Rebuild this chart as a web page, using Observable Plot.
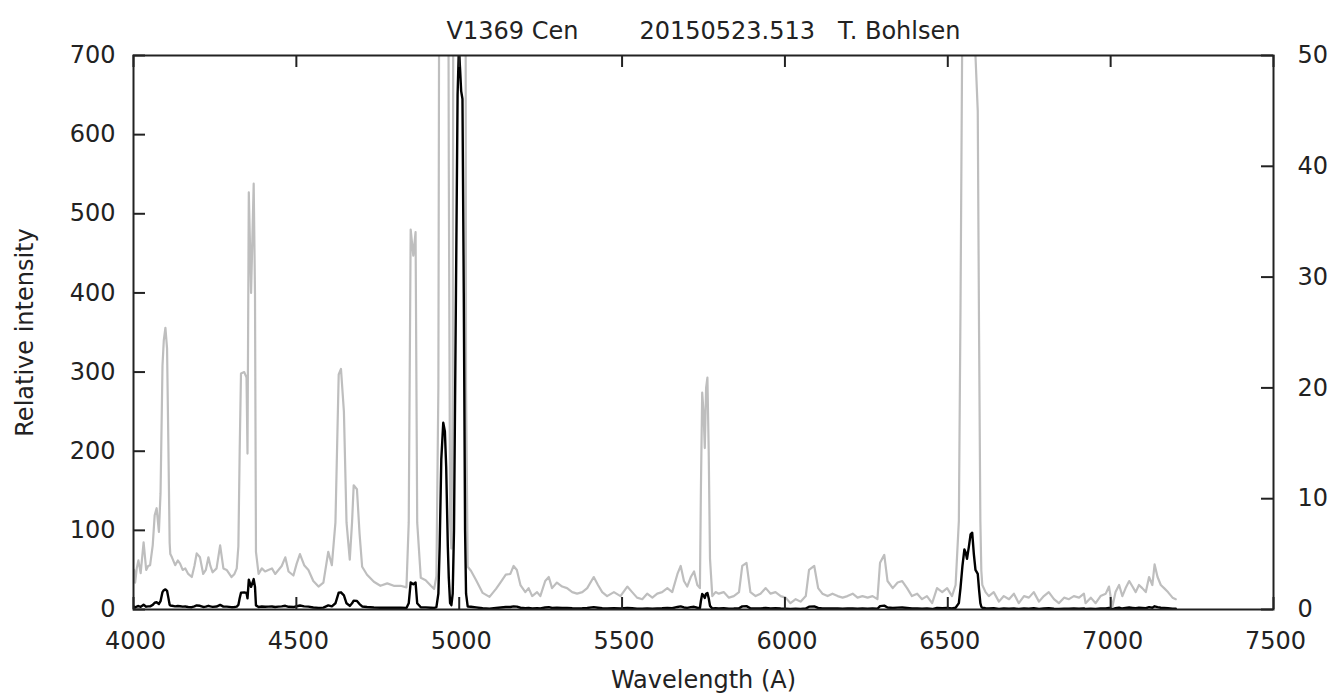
<!DOCTYPE html>
<html><head><meta charset="utf-8">
<script src="https://cdn.jsdelivr.net/npm/d3@7"></script>
<script src="https://cdn.jsdelivr.net/npm/@observablehq/plot@0.6"></script>
<style>body{margin:0;background:#fff;}</style>
</head><body><div id="chart"></div>
<script>
const title = "V1369 Cen\u00A0\u00A0\u00A0\u00A0\u00A0\u00A0\u00A0\u00A020150523.513\u00A0\u00A0\u00A0T. Bohlsen";
const xLabel = "Wavelength (A)";
const yLabel = "Relative intensity";
const xTicks = [4000, 4500, 5000, 5500, 6000, 6500, 7000, 7500];
const leftTicks = [0, 100, 200, 300, 400, 500, 600, 700];
const rightTicks = [0, 10, 20, 30, 40, 50];

const wavelength = [
4002,4005,4010,4015,4022,4031,4039,4045,4051,4059,4065,4071,4078,4083,4089,4093,4098,4103,4107,4111,
4113,4118,4128,4136,4143,4151,4159,4168,4179,4187,4194,4204,4214,4222,4230,4236,4243,4255,4266,4276,
4286,4301,4310,4317,4322,4326,4330,4340,4347,4350,4354,4361,4369,4373,4376,4384,4394,4404,4414,4425,
4435,4445,4455,4466,4476,4491,4501,4511,4524,4537,4552,4568,4583,4598,4609,4620,4630,4637,4646,4654,
4664,4671,4676,4686,4694,4702,4717,4738,4758,4779,4799,4820,4838,4845,4851,4859,4866,4871,4882,4897,
4913,4923,4930,4936,4940,4945,4951,4956,4960,4965,4968,4972,4976,4980,4984,4990,4995,4999,5003,5006,
5010,5014,5018,5021,5026,5036,5052,5072,5093,5113,5128,5143,5157,5167,5177,5188,5203,5213,5224,5239,
5249,5264,5275,5285,5300,5316,5331,5347,5362,5378,5393,5413,5426,5439,5454,5475,5495,5516,5531,5546,
5562,5577,5593,5608,5623,5639,5654,5670,5680,5690,5700,5711,5721,5731,5739,5742,5746,5750,5754,5758,
5762,5766,5770,5777,5787,5797,5812,5828,5843,5859,5869,5882,5894,5910,5925,5941,5956,5971,5987,6002,
6017,6033,6048,6064,6074,6090,6102,6115,6131,6146,6162,6177,6192,6208,6223,6238,6254,6269,6284,6292,
6305,6315,6331,6346,6360,6375,6390,6406,6421,6436,6452,6467,6483,6498,6513,6524,6534,6539,6545,6551,
6555,6559,6565,6570,6575,6580,6585,6592,6596,6600,6603,6606,6616,6626,6641,6657,6672,6688,6703,6718,
6734,6749,6764,6780,6795,6810,6826,6841,6857,6872,6887,6903,6918,6923,6939,6954,6969,6985,6995,7005,
7015,7026,7036,7046,7057,7067,7077,7087,7097,7108,7118,7128,7135,7144,7154,7164,7176,7190,7200
];
const flux = [
3.57,2.43,3.71,4.43,3.29,6.07,3.57,3.93,4.0,5.79,8.5,9.14,7.0,10.5,22.0,24.29,25.43,23.57,15.0,6.0,
5.0,4.71,4.0,4.43,4.14,3.57,3.71,3.21,2.93,3.93,5.07,4.71,3.21,3.57,4.71,3.93,3.36,3.71,5.79,3.71,
3.57,2.93,3.21,3.71,5.71,14.29,21.29,21.43,20.93,14.07,37.64,28.57,38.43,28.57,5.21,3.21,3.71,3.43,3.57,3.71,
3.21,3.57,3.93,4.71,3.43,3.07,4.14,5.0,4.0,3.57,2.57,2.07,2.43,5.21,4.0,7.86,21.21,21.71,17.86,7.86,
4.5,7.86,11.21,10.86,6.86,3.86,3.14,2.5,2.14,2.36,2.14,2.14,2.0,7.86,34.29,31.93,34.07,7.86,2.86,2.64,
2.14,1.86,3.0,20,80,190,236,225,180,80,40,8,5.5,20,100,400,650,710,680,655,
645,400,100,20,3.86,3.5,2.64,1.5,1.14,1.86,2.5,3.14,3.21,3.93,3.57,2.21,1.57,1.93,1.21,1.57,
1.21,2.57,2.93,1.93,2.43,2.07,1.93,1.57,1.43,1.57,1.93,2.93,2.21,1.57,1.21,1.57,1.21,2.07,1.57,1.07,
0.93,1.43,1.07,1.43,1.57,1.93,1.57,3.21,3.93,2.57,2.07,2.93,3.43,2.21,1.93,10.71,19.57,17.86,14.57,20.0,
20.93,14.29,4.57,1.21,1.57,1.43,1.57,1.07,1.21,1.57,3.93,4.21,1.57,1.21,1.43,1.93,1.43,1.57,1.21,1.07,
0.57,0.93,0.71,1.21,3.57,3.93,1.93,1.43,1.21,1.43,1.21,1.07,1.21,1.43,1.07,1.21,1.07,1.21,0.93,4.21,
4.93,2.57,1.93,2.43,2.57,1.93,1.21,1.43,0.93,1.21,0.57,1.93,1.57,1.93,1.21,2.21,8,27,55,76,
72,64,80,95,97,70,50,45,25,8,3.5,2.21,1.57,1.21,1.57,0.71,1.21,0.93,1.43,0.57,
1.21,1.07,1.57,0.71,1.21,1.57,0.93,0.57,1.07,0.93,1.21,1.07,1.43,0.57,1.07,0.57,1.21,1.43,2.07,0.21,
1.57,2.21,1.21,1.93,2.57,2.07,1.57,2.21,1.93,1.57,2.93,2.21,4.07,2.93,2.21,1.93,1.57,1.07,0.93
];

const spectrum = wavelength.map((w, i) => ({w, f: flux[i]}));
const leftMax = leftTicks[leftTicks.length - 1];
const rightMax = rightTicks[rightTicks.length - 1];
const ratio = leftMax / rightMax;

const W = 1332, H = 695;
const mL = 133, mR = 59, mT = 55, mB = 86;
const fw = W - mL - mR, fh = H - mT - mB;
const tickLen = 12;
const ink = "#222";

const chart = Plot.plot({
  width: W, height: H,
  marginLeft: mL, marginRight: mR, marginTop: mT, marginBottom: mB,
  style: {fontFamily: "'DejaVu Sans', Verdana, sans-serif", fontSize: "24px", color: ink, background: "#fff"},
  x: {domain: [xTicks[0], xTicks[xTicks.length - 1]], axis: null},
  y: {domain: [0, leftMax], axis: null},
  marks: [
    Plot.line(spectrum, {x: "w", y: d => d.f * ratio, stroke: "#bebebe", strokeWidth: 2.2, clip: true}),
    Plot.line(spectrum, {x: "w", y: "f", stroke: "#000", strokeWidth: 2.4, clip: true}),
    Plot.tickX(xTicks, {x: d => d, insetTop: fh - tickLen, stroke: ink, strokeWidth: 2}),
    Plot.tickX(xTicks, {x: d => d, insetBottom: fh - tickLen, stroke: ink, strokeWidth: 2}),
    Plot.tickY(leftTicks, {y: d => d, insetRight: fw - tickLen, stroke: ink, strokeWidth: 2}),
    Plot.tickY(rightTicks, {y: d => d * ratio, insetLeft: fw - tickLen, stroke: ink, strokeWidth: 2}),
    Plot.frame({stroke: ink, strokeWidth: 2}),
    Plot.text(xTicks, {x: d => d, text: d => String(d), frameAnchor: "bottom", lineAnchor: "middle", dy: 32, dx: 2, fill: ink}),
    Plot.text(leftTicks, {y: d => d, text: d => String(d), frameAnchor: "left", dx: -18, textAnchor: "end", lineAnchor: "middle", fill: ink}),
    Plot.text(rightTicks, {y: d => d * ratio, text: d => String(d), frameAnchor: "right", dx: 24, textAnchor: "start", lineAnchor: "middle", fill: ink}),
    Plot.text([title], {text: d => d, frameAnchor: "top", lineAnchor: "middle", textAnchor: "middle", dy: -24, fill: ink}),
    Plot.text([xLabel], {text: d => d, frameAnchor: "bottom", lineAnchor: "middle", textAnchor: "middle", dy: 71, fill: ink}),
    Plot.text([yLabel], {text: d => d, frameAnchor: "left", textAnchor: "middle", lineAnchor: "middle", dx: -108, rotate: -90, fill: ink})
  ]
});
document.getElementById("chart").appendChild(chart);
</script>
</body></html>
